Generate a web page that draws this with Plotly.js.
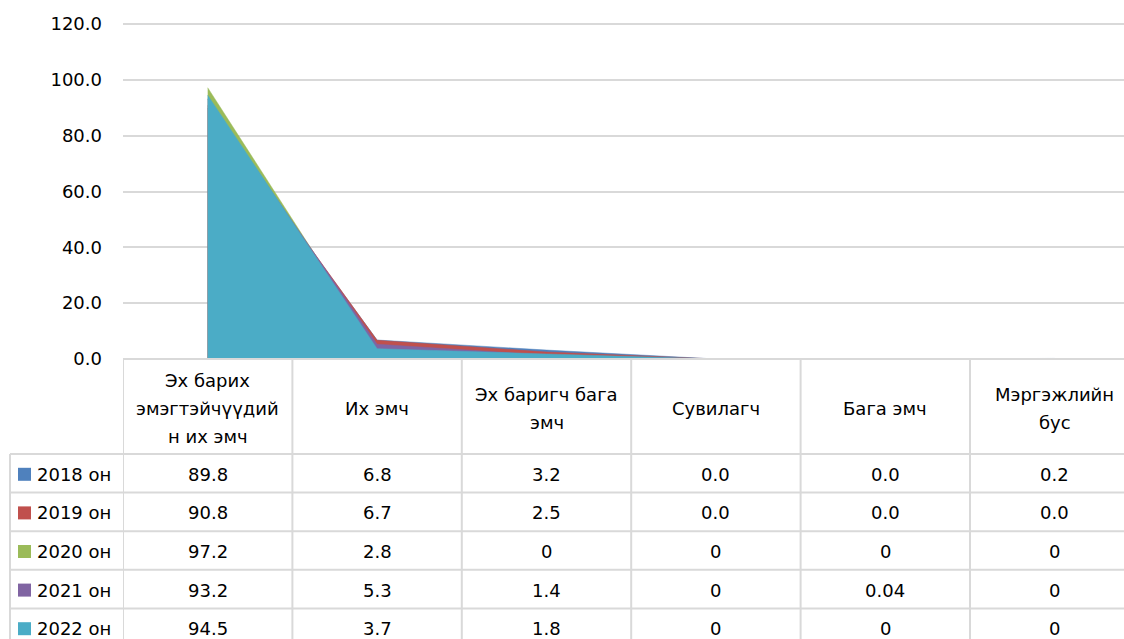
<!DOCTYPE html>
<html>
<head>
<meta charset="utf-8">
<script src="https://cdn.plot.ly/plotly-3.0.1.min.js"></script>
<style>
  html, body { margin: 0; padding: 0; background: #fff; overflow: hidden; }
  #chart { width: 1124px; height: 639px; }
</style>
</head>
<body>
<div id="chart"></div>
<script>
// ---- data ----
const categories = [
  "Эх барих<br>эмэгтэйчүүдий<br>н их эмч",
  "Их эмч",
  "Эх баригч бага<br>эмч",
  "Сувилагч",
  "Бага эмч",
  "Мэргэжлийн<br>бус"
];
const seriesNames = ["2018 он", "2019 он", "2020 он", "2021 он", "2022 он"];
const v2018 = [89.8, 6.8, 3.2, 0.0, 0.0, 0.2];
const v2019 = [90.8, 6.7, 2.5, 0.0, 0.0, 0.0];
const v2020 = [97.2, 2.8, 0, 0, 0, 0];
const v2021 = [93.2, 5.3, 1.4, 0, 0.04, 0];
const v2022 = [94.5, 3.7, 1.8, 0, 0, 0];
const oneDecimal = [true, true, false, false, false]; // table number format per series
const colors = ["#4F81BD", "#C0504D", "#9BBB59", "#8064A2", "#4BACC6"];
const yTicks = [0, 20, 40, 60, 80, 100, 120];

const seriesValues = [v2018, v2019, v2020, v2021, v2022];

// ---- layout geometry (pixels) ----
const W = 1124, H = 639;
const mL = 123, mT = 20, mB = 280;
const plotW = W - mL;            // 1001
const plotH = H - mT - mB;       // 339
const colW = 169.4;              // px per category
const xMax = -0.5 + plotW / colW;
const yMax = 120 * plotH / 335;  // keep 120 at y=24 and 0 at y=359
const py = p => (H - mB - p) / plotH;   // pixel y -> paper y
const px = p => (p - mL) / plotW;       // pixel x -> paper x

const FONT = "DejaVu Sans";
const FS = 18;
const gridC = "#D9D9D9";

const xIdx = categories.map((_, i) => i);

const traces = seriesValues.map((vals, s) => ({
  type: "scatter",
  mode: "lines",
  x: xIdx,
  y: vals,
  name: seriesNames[s],
  fill: "tozeroy",
  fillcolor: colors[s],
  line: { color: colors[s], width: 0.5 },
  hoverinfo: "name+y"
}));

// ---- table ----
const headerTop = 359, headerBot = 454;
const rowH = 38.6;
const nRows = seriesNames.length;
const tableBot = headerBot + rowH * nRows;
const labelLeft = 10;

const shapes = [];
const lineStyle = { color: gridC, width: 2 };
// top line of table (category axis)
shapes.push({ type: "line", xref: "paper", yref: "paper", x0: 0, x1: 1, y0: py(headerTop), y1: py(headerTop), line: lineStyle, layer: "above" });
// row lines
for (let r = 0; r <= nRows; r++) {
  const yy = headerBot + r * rowH;
  shapes.push({ type: "line", xref: "paper", yref: "paper", x0: px(labelLeft), x1: 1, y0: py(yy), y1: py(yy), line: lineStyle });
}
// vertical column lines
for (let k = 0; k <= categories.length; k++) {
  shapes.push({ type: "line", xref: "x", yref: "paper", x0: k - 0.5, x1: k - 0.5, y0: py(headerTop), y1: py(tableBot + 5), line: lineStyle });
}
// left line of label column
shapes.push({ type: "line", xref: "paper", yref: "paper", x0: px(labelLeft), x1: px(labelLeft), y0: py(headerBot), y1: py(tableBot + 5), line: lineStyle });

const annotations = [];
// header text
const headerMid = (headerTop + headerBot) / 2 + 2;
const lineGap = 28.5;
categories.forEach((c, k) => {
  const lines = c.split("<br>");
  lines.forEach((t, i) => {
    const yy = headerMid + (i - (lines.length - 1) / 2) * lineGap;
    annotations.push({ x: k, xref: "x", y: py(yy), yref: "paper", text: t, showarrow: false,
      xanchor: "center", yanchor: "middle", font: { family: FONT, size: FS, color: "#000" } });
  });
});
// rows
seriesNames.forEach((n, s) => {
  const yc = headerBot + (s + 0.5) * rowH + 1;
  // legend key square
  shapes.push({ type: "rect", xref: "paper", yref: "paper", x0: px(18), x1: px(31), y0: py(yc - 6.5), y1: py(yc + 6.5),
    fillcolor: colors[s], line: { width: 0 } });
  annotations.push({ x: px(35), xref: "paper", y: py(yc), yref: "paper", text: n, showarrow: false,
    xanchor: "left", yanchor: "middle", font: { family: FONT, size: FS, color: "#000" } });
  seriesValues[s].forEach((v, k) => {
    const txt = oneDecimal[s] ? v.toFixed(1) : String(v);
    annotations.push({ x: k, xref: "x", y: py(yc), yref: "paper", text: txt, showarrow: false,
      xanchor: "center", yanchor: "middle", font: { family: FONT, size: FS, color: "#000" } });
  });
});

const layout = {
  width: W, height: H,
  margin: { l: mL, r: 0, t: mT, b: mB, pad: 0 },
  paper_bgcolor: "#fff", plot_bgcolor: "#fff",
  showlegend: false,
  font: { family: FONT, size: FS, color: "#000" },
  xaxis: { range: [-0.5, xMax], showgrid: false, zeroline: false, showline: false, showticklabels: false, ticks: "", fixedrange: true },
  yaxis: { range: [0, yMax], tickvals: yTicks, ticktext: yTicks.map(v => v.toFixed(1)),
    showgrid: true, gridcolor: gridC, gridwidth: 2, zeroline: false, showline: false, ticks: "",
    ticklabelstandoff: 20, tickfont: { family: FONT, size: FS, color: "#000" }, fixedrange: true },
  shapes: shapes,
  annotations: annotations
};

Plotly.newPlot("chart", traces, layout, { displayModeBar: false, staticPlot: true });
</script>
</body>
</html>
